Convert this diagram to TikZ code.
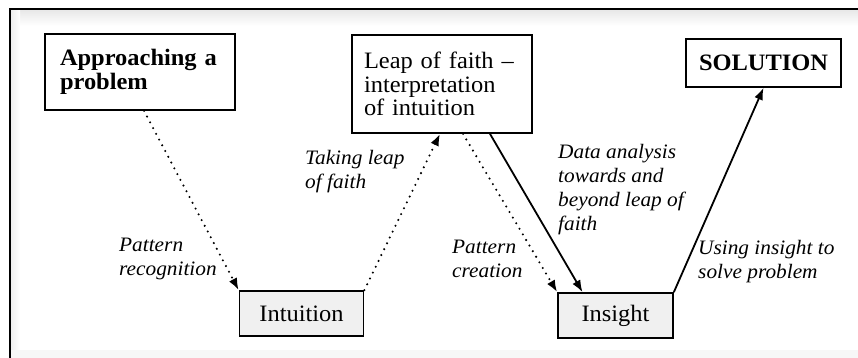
\documentclass[tikz,border=0pt]{standalone}
\usepackage{fontspec}
\setmainfont[FakeStretch=1.04]{Liberation Serif}
\usetikzlibrary{arrows.meta}

\tikzset{
  stage/.style={draw, line width=1.7pt, inner sep=0pt, fill=white,
    font=\fontsize{23.5}{23.5}\selectfont},
  outcome/.style={stage, fill=gray!12},
  note/.style={font=\fontsize{20.5}{24}\selectfont\itshape, align=left,
    anchor=base west, inner sep=0pt},
  hunch/.style={line width=2.3pt, line cap=round, dash pattern=on 0pt off 6.5pt,
    -{Latex[length=12pt,width=9pt]}},
  reason/.style={line width=1.8pt, -{Latex[length=12pt,width=9pt]}}
}

\begin{document}
\begin{tikzpicture}[x=1pt,y=-1pt]
	\useasboundingbox (0,0) rectangle (858,358);
	% frame
	\shade[top color=gray!18, bottom color=white] (10,10) rectangle (858,26);
	\shade[left color=gray!15, right color=white] (10,10) rectangle (20,358);
	\fill[gray!6] (11,350) rectangle (858,358);
	\draw[line width=2pt] (10,358) -- (10,9.5) -- (858,9.5);

	% boxes
	\node[stage, minimum width=190pt, minimum height=76pt, text width=160pt, align=left, font=\fontsize{23.5}{23.5}\selectfont\bfseries] (approach) at (140,72) {Approaching a\\problem};
	\node[stage, minimum width=180pt, minimum height=98pt, text width=156pt, align=left] (leap) at (442,84) {\mbox{Leap of faith --}\\interpretation\\of intuition};
	\node[stage, minimum width=155pt, minimum height=48pt, font=\fontsize{23.5}{23.5}\selectfont\bfseries] (solution) at (763.5,63) {SOLUTION};
	\node[outcome, minimum width=124pt, minimum height=45pt] (intuition) at (301.5,313.5) {Intuition};
	\node[outcome, minimum width=115pt, minimum height=45pt] (insight) at (615.5,315.5) {Insight};

	% connectors
	\draw[hunch] ([xshift=4pt]approach.south) -- (intuition.north west);
	\draw[hunch] (intuition.north east) -- ([xshift=-2pt]leap.south);
	\draw[hunch] ([xshift=21pt]leap.south) -- (insight.north west);
	\draw[reason] ([xshift=48pt]leap.south) -- ([xshift=-33pt]insight.north);
	\draw[reason] (insight.north east) -- (solution.south);

	% labels (anchored on the last baseline)
	\node[note] (recognition) at (119,275) {Pattern\\recognition};
	\node[note] (takeleap) at (305,188) {Taking leap\\of faith};
	\node[note] (analysis) at (558,230) {Data analysis\\towards and\\beyond leap of\\faith};
	\node[note] (creation) at (452,277) {Pattern\\creation};
	\node[note] (using) at (698,278) {Using insight to\\solve problem};
\end{tikzpicture}
\end{document}
